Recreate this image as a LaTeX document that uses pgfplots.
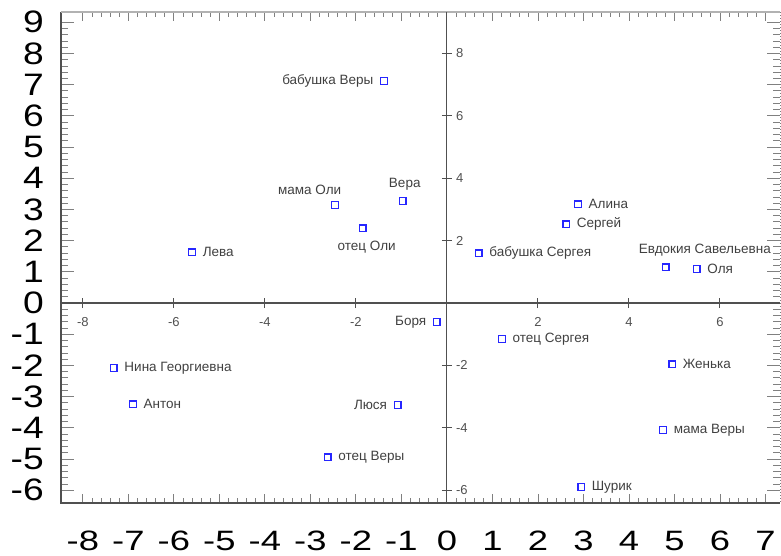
\documentclass[border=0pt]{standalone}
\usepackage{pgfplots}
\usepackage{pgfplotstable}
\pgfplotsset{compat=1.18}
\usepackage{fontspec}
\setmainfont{Liberation Sans}
\newfontfamily\bigfontx[FakeStretch=1.3]{Liberation Sans}
\newfontfamily\bigfonty[FakeStretch=1.2]{Liberation Sans}
\definecolor{ptblue}{HTML}{2626FF}
\definecolor{lbl}{HTML}{404040}
\definecolor{axc}{HTML}{505050}

% points with label to the right
\pgfplotstableread[col sep=comma]{
x,y,name
-5.60,1.63,Лева
2.88,3.17,Алина
2.62,2.53,Сергей
0.70,1.60,бабушка Сергея
5.49,1.09,Оля
1.21,-1.15,отец Сергея
4.95,-1.96,Женька
4.75,-4.07,мама Веры
2.95,-5.90,Шурик
-7.32,-2.08,Нина Георгиевна
-6.90,-3.24,Антон
-2.62,-4.94,отец Веры
}\ptsR
% points with label to the left
\pgfplotstableread[col sep=comma]{
x,y,name
-1.38,7.12,бабушка Веры
-0.22,-0.61,Боря
-1.08,-3.27,Люся
}\ptsL
% points with label above
\pgfplotstableread[col sep=comma]{
x,y,name
-2.46,3.14,мама Оли
}\ptsA
\pgfplotstableread[col sep=comma]{
x,y,name
-0.97,3.27,Вера
}\ptsB
\pgfplotstableread[col sep=comma]{
x,y,name
4.81,1.15,Евдокия Савельевна
}\ptsC
% point with label below
\pgfplotstableread[col sep=comma]{
x,y,name
-1.85,2.40,отец Оли
}\ptsD

\pgfplotsset{
  pts/.style={color=ptblue, only marks, mark=square*, mark size=3.3pt,
    mark options={draw=ptblue, fill=white, line width=1.4pt},
    point meta=explicit symbolic,
    nodes near coords={\pgfplotspointmeta},
    every node near coord/.append style={font=\fontsize{13.5}{13.5}\selectfont, text=lbl, inner sep=0pt},
  },
}

\begin{document}
\begin{tikzpicture}
\useasboundingbox (-61pt,-53pt) rectangle (720pt,503pt);
% outer frame axis
\begin{axis}[
  scale only axis, width=719pt, height=491pt,
  xmin=-8.48, xmax=7.32, ymin=-6.41, ymax=9.33,
  xtick={-8,-7,-6,-5,-4,-3,-2,-1,0,1,2,3,4,5,6,7},
  xticklabels={-8,-7,-6,-5,-4,-3,-2,-1,0,1,2,3,4,5,6,7},
  ytick={-6,-5,-4,-3,-2,-1,0,1,2,3,4,5,6,7,8,9},
  yticklabels={-6,-5,-4,-3,-2,-1,0,1,2,3,4,5,6,7,8,9},
  minor tick num=4,
  tick align=inside,
  major tick length=9pt, minor tick length=5pt,
  tick style={color=gray, line width=0.8pt},
  ytick style={color=gray, line width=0.9pt},
  y tick style={/pgfplots/major tick length=13pt, /pgfplots/minor tick length=7pt},
  axis line style={draw=none},
  tick label style={inner sep=0pt, text=black},
  xticklabel style={font=\bigfontx\fontsize{28}{28}\selectfont, anchor=north, yshift=-28pt},
  yticklabel style={font=\bigfonty\fontsize{31}{31}\selectfont, anchor=east, xshift=-17pt},
  clip=false,
]
\draw[color=axc, line width=1.4pt] (rel axis cs:0,1) -- (rel axis cs:0,0) -- (rel axis cs:1,0);
\draw[gray!60, line width=1.2pt] (rel axis cs:0,1) -- (rel axis cs:1,1);
\draw[gray, dotted, line width=1pt] (rel axis cs:1,1) -- (rel axis cs:1,0);
\end{axis}
% inner axes with data
\begin{axis}[
  scale only axis, width=719pt, height=491pt,
  xmin=-8.48, xmax=7.32, ymin=-6.41, ymax=9.33,
  axis lines=middle,
  axis line style={-, color=axc, line width=1.2pt},
  xtick={-8,-6,-4,-2,2,4,6}, ytick={-6,-4,-2,2,4,6,8},
  xticklabels={-8,-6,-4,-2,2,4,6}, yticklabels={-6,-4,-2,2,4,6,8},
  tick align=center, major tick length=10pt,
  tick style={color=axc, line width=1pt},
  tick label style={font=\fontsize{13}{13}\selectfont, text=axc, inner sep=0pt},
  xticklabel style={anchor=north, yshift=-9pt},
  yticklabel style={anchor=west, xshift=14pt},
  clip=false,
]
\addplot[pts, every node near coord/.append style={anchor=west, xshift=10pt}]
  table[x=x, y=y, meta=name] {\ptsR};
\addplot[pts, every node near coord/.append style={anchor=east, xshift=-10pt}]
  table[x=x, y=y, meta=name] {\ptsL};
\addplot[pts, every node near coord/.append style={anchor=base east, xshift=7pt, yshift=11pt}]
  table[x=x, y=y, meta=name] {\ptsA};
\addplot[pts, every node near coord/.append style={anchor=base, xshift=2pt, yshift=14pt}]
  table[x=x, y=y, meta=name] {\ptsB};
\addplot[pts, every node near coord/.append style={anchor=base, xshift=39pt, yshift=14pt}]
  table[x=x, y=y, meta=name] {\ptsC};
\addplot[pts, every node near coord/.append style={anchor=base, xshift=4pt, yshift=-22pt}]
  table[x=x, y=y, meta=name] {\ptsD};
\end{axis}
\end{tikzpicture}
\end{document}
